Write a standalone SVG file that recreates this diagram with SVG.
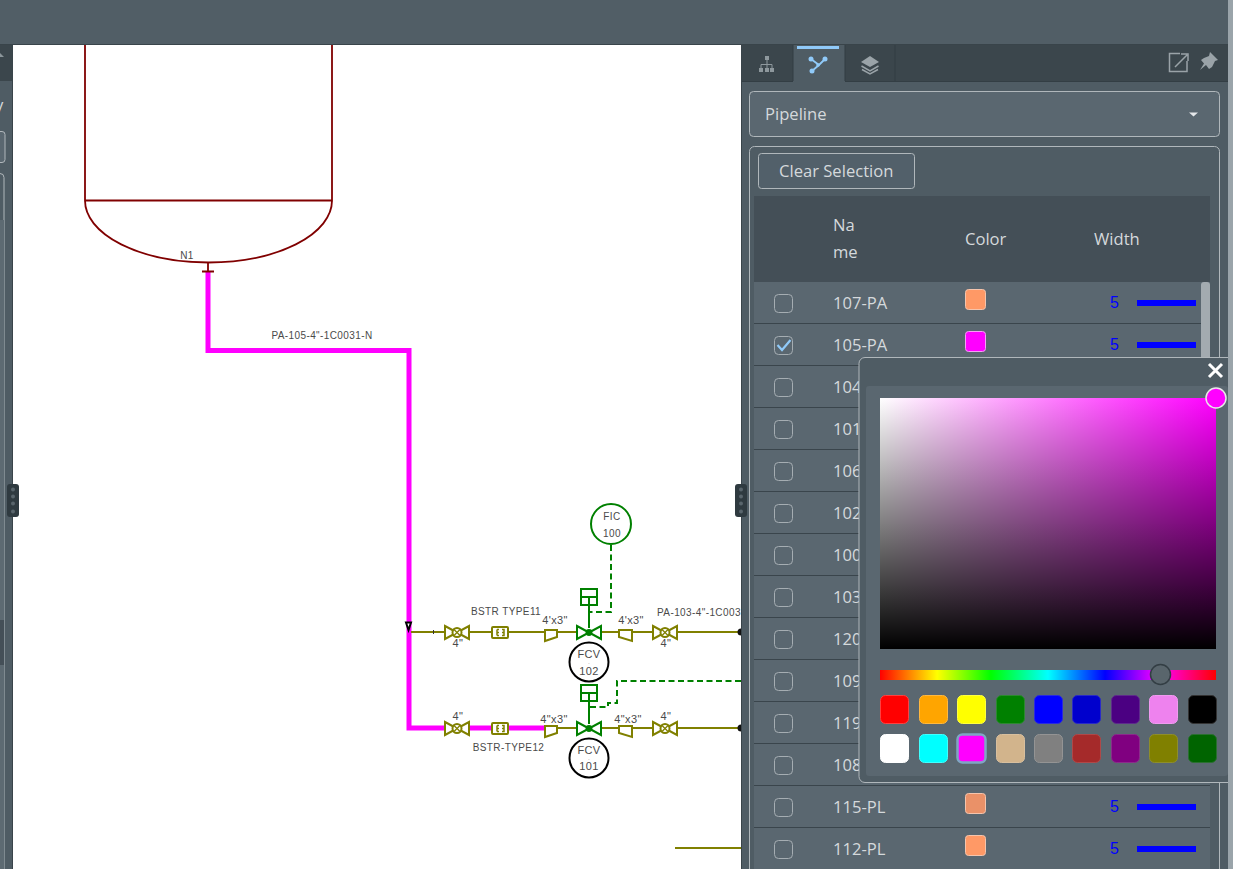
<svg xmlns="http://www.w3.org/2000/svg" width="1233" height="869" viewBox="0 0 1233 869">
<style>
.ui{font-family:"Open Sans","Noto Sans",sans-serif;font-size:16.6px;fill:#d5d9dc}
.lb{font-family:"Liberation Sans",Arial,sans-serif;font-size:10px;fill:#4a4a4a;text-anchor:middle;letter-spacing:.4px}
.lg{font-size:11px}
.p{fill:none;stroke:#808000;stroke-width:2}
.o{fill:#fff;stroke:#808000;stroke-width:2}
.g{fill:none;stroke:#008000;stroke-width:2}
.gd{fill:none;stroke:#008000;stroke-width:2;stroke-dasharray:6 3.5}
.cb{fill:none;stroke:#a5adb2;stroke-width:1}
.n{font-family:"Liberation Sans",Arial,sans-serif;font-size:16px;fill:#0000ff}
.bar{fill:#0000ff}
.div{stroke:#3a454c;stroke-width:1}
.box{stroke:#b0b7bb;stroke-width:1}
.h{fill:#2f3a40}.hd{fill:#59656c}
</style>
<defs>
<linearGradient id="sw" x1="0" x2="1"><stop offset="0" stop-color="#fff"/><stop offset="1" stop-color="#fff" stop-opacity="0"/></linearGradient>
<linearGradient id="sb" x1="0" x2="0" y1="0" y2="1"><stop offset="0" stop-color="#000" stop-opacity="0"/><stop offset="1" stop-color="#000"/></linearGradient>
<linearGradient id="hue" x1="0" x2="1"><stop offset="0" stop-color="#f00"/><stop offset=".17" stop-color="#ff0"/><stop offset=".33" stop-color="#0f0"/><stop offset=".5" stop-color="#0ff"/><stop offset=".67" stop-color="#00f"/><stop offset=".83" stop-color="#f0f"/><stop offset="1" stop-color="#f00"/></linearGradient>
<clipPath id="cv"><rect x="13" y="45" width="729" height="824"/></clipPath>
<g id="valve"><path class="o" d="M-12 -6.500 L12 6.500 V-6.500 L-12 6.500Z"/><circle r="4.500" class="o"/><path d="M-3 -3L3 3M3 -3L-3 3" stroke="#808000" stroke-width="1.300"/></g>
<g id="bstr"><rect x="-8" y="-5.500" width="16" height="11" rx="1" class="o"/><path d="M-3 -3V3M-3 -3H-1M-3 0H-1M-3 3H-1M2 -3H4V3H2M2 0H4" fill="none" stroke="#808000" stroke-width="1.500"/></g>
<g id="cv2"><path d="M-12 -6.500 L12 6.500 V-6.500 L-12 6.500Z" fill="#fff" stroke="#008000" stroke-width="2"/><circle r="3.400" fill="#008000"/></g>
<g id="grip"><rect x="-6" y="-16.500" width="12" height="33" rx="3" class="h"/><circle cy="-11" r="2" class="hd"/><circle cy="-4" r="2" class="hd"/><circle cy="3" r="2" class="hd"/><circle cy="11" r="2" class="hd"/></g>
</defs>
<rect id="bg" width="1233" height="869" fill="#4f5c64"/>
<rect width="1233" height="44" fill="#515e66"/>
<rect y="44" width="1233" height="1" fill="#39444a"/>

<g id="left-panel">
<rect y="45" width="12" height="824" fill="#4f5c64"/>
<rect y="45" width="12" height="36" fill="#3b464c"/>
<path d="M0 53L4 57H0Z" fill="#8b959a"/>
<rect x="-10" y="131.500" width="15" height="31" rx="3" fill="#5a6770" class="box"/>
<rect x="-10" y="173.500" width="14" height="700" rx="4" fill="none" class="box"/>
<rect y="220" width="4" height="400" fill="#5d6a72"/>
<rect y="620" width="4" height="45" fill="#444f57"/>
<rect y="665" width="4" height="204" fill="#5d6a72"/>
<rect x="12" y="45" width="1" height="824" fill="#39444a"/>
<text class="ui" x="-5" y="111" font-size="18">y</text>
<text class="ui" x="-7" y="818">1</text>
</g>

<g id="canvas">
<rect x="13" y="45" width="729" height="824" fill="#fff"/>
</g>

<g id="connectors" clip-path="url(#cv)">
<path d="M208 272V350.500H409V728H546" fill="none" stroke="#ff00ff" stroke-width="5" stroke-linejoin="miter"/>
<path class="p" d="M411 632H741M558 728H741M675 848H741"/>
<path d="M433.500 630V634" stroke="#333" stroke-width="1"/>
<path class="g" d="M589 597V628M589 693V724"/>
<path class="gd" d="M611 545V612H589"/>
<path class="gd" d="M590 707H608V703H617V681H741"/>
<circle cx="741" cy="632" r="3.500" fill="#111"/>
<circle cx="741" cy="728" r="3.500" fill="#111"/>
</g>

<g id="tank">
<path d="M85 45V200.500H332V45M85 200.500A123.500 62 0 0 0 332 200.500" fill="none" stroke="#800000" stroke-width="1.800"/>
<path d="M208 262V271M202 271.500H214" fill="none" stroke="#800000" stroke-width="1.800"/>
<text class="lb" x="187" y="259">N1</text>
</g>
<g id="line-label"><text class="lb" x="322" y="338.500">PA-105-4"-1C0031-N</text></g>
<g id="marker"><path d="M406 622.500H411L408.500 630Z" fill="#fff" stroke="#000" stroke-width="2"/></g>

<g id="valve-upper-left"><use href="#valve" x="457" y="632.500"/><text class="lb lg" x="458" y="647">4"</text></g>
<g id="bstr-11"><use href="#bstr" x="500" y="632.500"/><text class="lb" x="506" y="614.500">BSTR TYPE11</text></g>
<g id="reducer-upper-left"><path class="o" d="M545 630H557V637L545 641Z"/><text class="lb lg" x="555" y="623.500">4'x3"</text></g>
<g id="fcv-102-valve"><use href="#cv2" x="589" y="632.500"/><rect x="581" y="589" width="16" height="16" class="g"/><path class="g" d="M581 597H597"/></g>
<g id="reducer-upper-right"><path class="o" d="M619 630H632V641L619 637Z"/><text class="lb lg" x="631" y="623.500">4'x3"</text></g>
<g id="valve-upper-right"><use href="#valve" x="665" y="632.500"/><text class="lb lg" x="666" y="647">4"</text></g>
<g id="line-label-103"><svg x="640" y="600" width="101" height="20"><text class="lb" x="17" y="15.500" style="text-anchor:start">PA-103-4"-1C003</text></svg></g>

<g id="fic-100"><circle cx="611" cy="524" r="20" fill="#fff" stroke="#008000" stroke-width="2"/><text class="lb" x="612" y="520">FIC</text><text class="lb" x="612" y="537">100</text></g>
<g id="fcv-102"><circle cx="589" cy="662" r="19.500" fill="#fff" stroke="#000" stroke-width="2"/><text class="lb lg" x="589" y="658">FCV</text><text class="lb" x="589" y="664" style="font-size:4px">-</text><text class="lb lg" x="589" y="674.500">102</text></g>

<g id="valve-lower-left"><use href="#valve" x="457" y="728.500"/><text class="lb lg" x="458" y="720">4"</text></g>
<g id="bstr-12"><use href="#bstr" x="500" y="728.500"/><text class="lb" x="508.500" y="751">BSTR-TYPE12</text></g>
<g id="reducer-lower-left"><path class="o" d="M545 726H557V733L545 737Z"/><text class="lb lg" x="554" y="722.500">4"x3"</text></g>
<g id="fcv-101-valve"><use href="#cv2" x="589" y="728.500"/><rect x="581" y="685" width="16" height="16" class="g"/><path class="g" d="M581 693H597"/></g>
<g id="reducer-lower-right"><path class="o" d="M619 726H632V737L619 733Z"/><text class="lb lg" x="628" y="722.500">4"x3"</text></g>
<g id="valve-lower-right"><use href="#valve" x="665" y="728.500"/><text class="lb lg" x="666" y="720">4"</text></g>
<g id="fcv-101"><circle cx="589" cy="758" r="19.500" fill="#fff" stroke="#000" stroke-width="2"/><text class="lb lg" x="589" y="754">FCV</text><text class="lb" x="589" y="759.500" style="font-size:4px">-</text><text class="lb lg" x="589" y="770">101</text></g>

<g id="right-panel">
<rect x="742" y="45" width="486" height="824" fill="#4f5c64"/>
<rect x="741" y="45" width="1" height="824" fill="#39444a"/>
<rect x="742" y="45" width="486" height="36" fill="#3b464c"/>
<rect x="742" y="81" width="486" height="1" fill="#333e44"/>
<rect x="793" y="45" width="52" height="37" fill="#4f5c64"/>
<path d="M793 45V81M845 45V81M895 45V81" stroke="#323c42" stroke-width="1"/>
<rect x="797" y="46" width="42" height="3" fill="#90caf9"/>
<g id="tab-tree" fill="#8e989d"><rect x="765" y="56" width="4" height="4"/><rect x="759" y="68" width="4" height="4"/><rect x="765" y="68" width="4" height="4"/><rect x="770" y="68" width="4" height="4"/><path d="M767 60V68M761 68V64.500H772V68" fill="none" stroke="#8e989d"/></g>
<g id="tab-lines"><path d="M811 59L819 65L825 59M819 65L812 71" fill="none" stroke="#90caf9" stroke-width="1.800"/><circle cx="811" cy="59" r="2.500" fill="#90caf9"/><circle cx="825" cy="59" r="2.500" fill="#90caf9"/><circle cx="818" cy="65" r="1.800" fill="#90caf9"/><circle cx="812" cy="71" r="2.500" fill="#90caf9"/></g>
<g id="tab-layers"><path d="M870 56L879 62L870 67L861 62Z" fill="#9aa3a8"/><path d="M861.500 66L870 71L878.500 66M862 69.500L870 74L878 69.500" fill="none" stroke="#9aa3a8" stroke-width="1.500"/></g>
<g id="popout"><path d="M1187 61V71.500H1169.500V53.500H1180" fill="none" stroke="#9aa3a8" stroke-width="1.500"/><path d="M1175 67L1187 55M1181 54H1188V61" fill="none" stroke="#9aa3a8" stroke-width="1.500"/></g>
<g id="pin"><path d="M1210 52L1218 60L1215 61L1212 67L1209 69L1206 65L1200 70L1204 63.500L1201 60L1204 58L1209 56Z" fill="#9aa3a8"/></g>

<g id="dropdown"><rect x="749.500" y="91.500" width="470" height="45" rx="4" fill="#5a6770" class="box"/><text class="ui" x="765" y="119.500">Pipeline</text><path d="M1189 112.500H1198L1193.500 116.500Z" fill="#e5e8ea"/></g>
<rect x="749.500" y="146.500" width="470" height="740" rx="5" fill="none" class="box"/>
<g id="clear-btn"><rect x="758.500" y="153.500" width="156" height="35" rx="3" fill="#52606a" class="box"/><text class="ui" x="779" y="176.500">Clear Selection</text></g>

<g id="table-header"><rect x="754" y="196" width="456" height="86" fill="#444f57"/>
<text class="ui" x="833" y="231">Na</text><text class="ui" x="833" y="258">me</text><text class="ui" x="965" y="245">Color</text><text class="ui" x="1094" y="245">Width</text></g>

<g id="rows">
<rect x="754" y="282" width="456" height="587" fill="#5a6770"/>
<path class="div" d="M754 323.500H1210M754 365.500H1210M754 407.500H1210M754 449.500H1210M754 491.500H1210M754 533.500H1210M754 575.500H1210M754 617.500H1210M754 659.500H1210M754 701.500H1210M754 743.500H1210M754 785.500H1210M754 827.500H1210"/>
<g class="ui">
<text x="833" y="309">107-PA</text><text x="833" y="351">105-PA</text><text x="833" y="393">104</text><text x="833" y="435">101</text><text x="833" y="477">106</text><text x="833" y="519">102</text><text x="833" y="561">100</text><text x="833" y="603">103</text><text x="833" y="645">120</text><text x="833" y="687">109</text><text x="833" y="729">119</text><text x="833" y="771">108</text><text x="833" y="813">115-PL</text><text x="833" y="855">112-PL</text>
</g>
<rect class="cb" x="774.500" y="294.500" width="18" height="18" rx="4"/>
<rect class="cb" x="774.500" y="336.500" width="18" height="18" rx="4"/>
<rect class="cb" x="774.500" y="378.500" width="18" height="18" rx="4"/>
<rect class="cb" x="774.500" y="420.500" width="18" height="18" rx="4"/>
<rect class="cb" x="774.500" y="462.500" width="18" height="18" rx="4"/>
<rect class="cb" x="774.500" y="504.500" width="18" height="18" rx="4"/>
<rect class="cb" x="774.500" y="546.500" width="18" height="18" rx="4"/>
<rect class="cb" x="774.500" y="588.500" width="18" height="18" rx="4"/>
<rect class="cb" x="774.500" y="630.500" width="18" height="18" rx="4"/>
<rect class="cb" x="774.500" y="672.500" width="18" height="18" rx="4"/>
<rect class="cb" x="774.500" y="714.500" width="18" height="18" rx="4"/>
<rect class="cb" x="774.500" y="756.500" width="18" height="18" rx="4"/>
<rect class="cb" x="774.500" y="798.500" width="18" height="18" rx="4"/>
<rect class="cb" x="774.500" y="840.500" width="18" height="18" rx="4"/>
<path d="M777.500 345L782 350L790.500 340" fill="none" stroke="#90caf9" stroke-width="2.200"/>
<rect x="965.500" y="289.500" width="20" height="20" rx="3" fill="#ff9966" stroke="#f5c4ac"/>
<rect x="965.500" y="331.500" width="20" height="20" rx="3" fill="#ff00ff" stroke="#f5a0f5"/>
<rect x="965.500" y="793.500" width="20" height="20" rx="3" fill="#ea9168" stroke="#f5c4ac"/>
<rect x="965.500" y="835.500" width="20" height="20" rx="3" fill="#ff9966" stroke="#f5c4ac"/>
<text class="n" x="1110" y="308">5</text><rect class="bar" x="1137" y="300" width="59" height="6"/>
<text class="n" x="1110" y="350">5</text><rect class="bar" x="1137" y="342" width="59" height="6"/>
<text class="n" x="1110" y="812">5</text><rect class="bar" x="1137" y="804" width="59" height="6"/>
<text class="n" x="1110" y="854">5</text><rect class="bar" x="1137" y="846" width="59" height="6"/>
<rect x="1201" y="282" width="9" height="90" rx="3" fill="#a3abb0"/>
</g>
</g>

<g id="color-popover">
<rect x="859" y="357.500" width="380" height="425" rx="6" fill="#4f5c64" stroke="#b0b7bb"/>
<rect x="866" y="386" width="362" height="390" rx="3" fill="#5a6770"/>
<path d="M1209 364L1222 377M1222 364L1209 377" stroke="#fff" stroke-width="3"/>
<g id="sat-square"><rect x="880" y="398" width="336" height="251" fill="#ff00ff"/><rect x="880" y="398" width="336" height="251" fill="url(#sw)"/><rect x="880" y="398" width="336" height="251" fill="url(#sb)"/></g>
<circle cx="1216" cy="398" r="10" fill="#ff00ff" stroke="#e8e8e8" stroke-width="1.500"/>
<rect x="880" y="670" width="336" height="10" fill="url(#hue)"/>
<circle cx="1160.500" cy="674.500" r="10" fill="#59656c" stroke="#333e44" stroke-width="1.500"/>
<g id="swatches" stroke-width="1">
<rect x="880.500" y="695.500" width="28" height="28" rx="5" fill="#ff0000" stroke="#ff4040"/>
<rect x="919.500" y="695.500" width="28" height="28" rx="5" fill="#ffa500" stroke="#ffb840"/>
<rect x="957.500" y="695.500" width="28" height="28" rx="5" fill="#ffff00" stroke="#ffff40"/>
<rect x="996.500" y="695.500" width="28" height="28" rx="5" fill="#008000" stroke="#2c8a30"/>
<rect x="1034.500" y="695.500" width="28" height="28" rx="5" fill="#0000ff" stroke="#2a2ae0"/>
<rect x="1072.500" y="695.500" width="28" height="28" rx="5" fill="#0000cd" stroke="#2a2ac8"/>
<rect x="1111.500" y="695.500" width="28" height="28" rx="5" fill="#4b0082" stroke="#5e2a8c"/>
<rect x="1149.500" y="695.500" width="28" height="28" rx="5" fill="#ee82ee" stroke="#f09af0"/>
<rect x="1188.500" y="695.500" width="28" height="28" rx="5" fill="#000" stroke="#333"/>
<rect x="880.500" y="734.500" width="28" height="28" rx="5" fill="#fff" stroke="#fff"/>
<rect x="919.500" y="734.500" width="28" height="28" rx="5" fill="#00ffff" stroke="#40ffff"/>
<rect x="957.500" y="734.500" width="28" height="28" rx="5" fill="#ff00ff" stroke="#7fa6c4" stroke-width="2.500"/>
<rect x="996.500" y="734.500" width="28" height="28" rx="5" fill="#d2b48c" stroke="#d8bf9e"/>
<rect x="1034.500" y="734.500" width="28" height="28" rx="5" fill="#808080" stroke="#949494"/>
<rect x="1072.500" y="734.500" width="28" height="28" rx="5" fill="#a52a2a" stroke="#b04848"/>
<rect x="1111.500" y="734.500" width="28" height="28" rx="5" fill="#800080" stroke="#8c2a8c"/>
<rect x="1149.500" y="734.500" width="28" height="28" rx="5" fill="#808000" stroke="#8e8e2a"/>
<rect x="1188.500" y="734.500" width="28" height="28" rx="5" fill="#006400" stroke="#2a7030"/>
</g>
</g>
<rect id="page-scroll" x="1228" y="0" width="5" height="869" fill="#9aa4aa"/>
<use id="grip-left" href="#grip" x="13" y="500.500"/>
<use id="grip-right" href="#grip" x="741" y="500.500"/>
</svg>
